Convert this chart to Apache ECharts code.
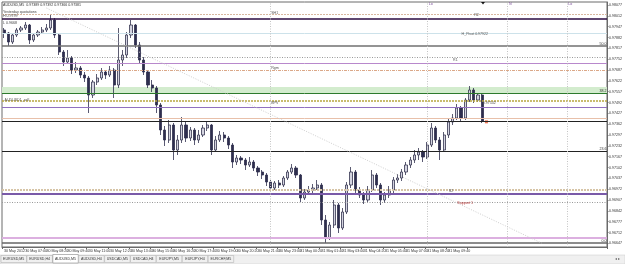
<!DOCTYPE html>
<html>
<head>
<meta charset="utf-8">
<script src="https://cdn.jsdelivr.net/npm/echarts@6/dist/echarts.min.js"></script>
<style>
html, body { margin: 0; padding: 0; background: #fff; }
#main { width: 625px; height: 264px; }
</style>
</head>
<body>
<div id="main"></div>
<script>
// AUDUSD M5, prices in 1e-5 units (97927 -> 0.97927)
var opens = [
  97927, 97909, 97855, 97897, 97927, 97939, 97957, 97867, 97897, 97915,
  97927, 97939, 97987, 97897, 97795, 97735, 97759, 97687, 97699, 97657,
  97639, 97537, 97615, 97639, 97675, 97657, 97687, 97597, 97747, 97777,
  97897, 97957, 97837, 97747, 97675, 97597, 97579, 97477, 97327, 97267,
  97357, 97207, 97267, 97357, 97279, 97327, 97267, 97297, 97339, 97357,
  97207, 97267, 97297, 97279, 97237, 97135, 97159, 97147, 97117, 97135,
  97099, 97075, 97057, 97015, 96979, 97009, 96997, 97039, 97075, 97099,
  97057, 96919, 96955, 96967, 96979, 96997, 96787, 96679, 96757, 96877,
  96739, 96835, 96997, 97075, 96967, 96937, 96907, 96967, 97057, 96997,
  96907, 96937, 96967, 97027, 97039, 97075, 97117, 97147, 97177, 97195,
  97165, 97237, 97339, 97267, 97207, 97297, 97375, 97399, 97459, 97399,
  97507, 97567, 97507, 97537
];
var closes = [
  97909, 97855, 97897, 97927, 97939, 97957, 97867, 97897, 97915, 97927,
  97939, 97987, 97897, 97795, 97735, 97759, 97687, 97699, 97657, 97639,
  97537, 97615, 97639, 97675, 97657, 97687, 97597, 97747, 97777, 97897,
  97957, 97837, 97747, 97675, 97597, 97579, 97477, 97327, 97267, 97357,
  97207, 97267, 97357, 97279, 97327, 97267, 97297, 97339, 97357, 97207,
  97267, 97297, 97279, 97237, 97135, 97159, 97147, 97117, 97135, 97099,
  97075, 97057, 97015, 96979, 97009, 96997, 97039, 97075, 97099, 97057,
  96919, 96955, 96967, 96979, 96997, 96787, 96679, 96757, 96877, 96739,
  96835, 96997, 97075, 96967, 96937, 96907, 96967, 97057, 96997, 96907,
  96937, 96967, 97027, 97039, 97075, 97117, 97147, 97177, 97195, 97165,
  97237, 97339, 97267, 97207, 97297, 97375, 97399, 97459, 97399, 97507,
  97567, 97507, 97537, 97381
];
var highs = [
  97939, 97915, 97903, 97939, 97951, 97975, 97963, 97909, 97927, 97945,
  97963, 98023, 97999, 97903, 97807, 97807, 97771, 97735, 97711, 97675,
  97651, 97627, 97663, 97699, 97687, 97711, 97699, 97939, 97807, 97915,
  97987, 97963, 97855, 97765, 97687, 97627, 97591, 97489, 97351, 97387,
  97369, 97297, 97405, 97375, 97345, 97339, 97327, 97357, 97375, 97363,
  97291, 97321, 97315, 97291, 97249, 97177, 97171, 97159, 97165, 97147,
  97111, 97087, 97069, 97027, 97021, 97027, 97051, 97087, 97123, 97111,
  97063, 96973, 96991, 97003, 97027, 97009, 96817, 96775, 96907, 96889,
  96859, 97015, 97105, 97087, 96985, 96955, 96991, 97087, 97069, 97009,
  96955, 96991, 97045, 97063, 97093, 97135, 97165, 97207, 97219, 97207,
  97255, 97369, 97351, 97285, 97315, 97393, 97423, 97483, 97471, 97519,
  97591, 97579, 97547, 97549
];
var lows = [
  97879, 97831, 97843, 97885, 97915, 97927, 97843, 97855, 97885, 97903,
  97915, 97927, 97879, 97777, 97711, 97723, 97663, 97669, 97639, 97615,
  97429, 97519, 97597, 97627, 97633, 97645, 97519, 97579, 97711, 97759,
  97879, 97819, 97729, 97657, 97579, 97555, 97429, 97297, 97231, 97249,
  97147, 97177, 97249, 97255, 97261, 97237, 97249, 97285, 97321, 97177,
  97195, 97255, 97255, 97213, 97099, 97117, 97123, 97087, 97105, 97081,
  97051, 97033, 96991, 96955, 96967, 96979, 96985, 97027, 97063, 97039,
  96895, 96907, 96937, 96949, 96967, 96757, 96649, 96667, 96739, 96709,
  96727, 96823, 96979, 96949, 96919, 96883, 96895, 96955, 96979, 96877,
  96889, 96919, 96949, 97009, 97021, 97057, 97099, 97129, 97147, 97135,
  97153, 97225, 97249, 97147, 97195, 97279, 97357, 97387, 97381, 97387,
  97495, 97489, 97495, 97369
];

var timeLabels = [
  "30 May 2012", "30 May 07:00", "30 May 08:20", "30 May 09:40", "30 May 11:00",
  "30 May 12:20", "30 May 13:40", "30 May 15:00", "30 May 16:20", "30 May 17:40",
  "30 May 19:00", "30 May 20:20", "30 May 21:40", "30 May 23:00", "31 May 00:20",
  "31 May 01:40", "31 May 03:00", "31 May 04:20", "31 May 05:40", "31 May 07:00",
  "31 May 08:20", "31 May 09:40", "31 May 11:00"
];
var priceTicks = [
  0.98077, 0.98012, 0.97947, 0.97882, 0.97817, 0.97752, 0.97687, 0.97622,
  0.97557, 0.97492, 0.97427, 0.97362, 0.97297, 0.97232, 0.97167, 0.97102,
  0.97037, 0.96972, 0.96907, 0.96842, 0.96777, 0.96712, 0.96647
];

// horizontal objects on the chart
var levelPrices = [0.98023, 0.97993, 0.97909, 0.97831, 0.97765, 0.97729, 0.97687, 0.97549, 0.97501,
  0.97465, 0.97399, 0.97381, 0.97201, 0.96967, 0.96943, 0.96895, 0.96679, 0.96649];
var greenZone = [0.97549, 0.97585];
var tagPrices = [0.98023, 0.97909, 0.97765, 0.97567, 0.97501, 0.97399, 0.97381, 0.96967, 0.96895];
var sessionIdx = [63, 100, 119, 133];
var sessionNames = ["", "Lo", "N", "Lo"];
var trendLine = [[10, 0.98059], [127, 0.96649]];
var lastMarker = [114, 0.97376];
var notes = [
  ["SH1", 63, 0.98029], ["R2", 111, 0.98017], ["H_Pivot 0.97922", 108, 0.97903],
  ["R1", 106, 0.97747], ["Rgm", 63, 0.97699], ["BPV", 63, 0.97489],
  ["AUDUSD1_sell", 0, 0.97507], ["0.97542", 113, 0.97489], ["S2", 105, 0.96961],
  ["Support 1", 107, 0.96889]
];
var tabNames = ["EURUSD,M5", "EURUSD,H4", "AUDUSD,M5", "AUDUSD,H4", "USDCAD,M5",
  "USDCAD,H4", "EURJPY,M5", "EURJPY,H4", "EURCHF,M5"];

// color, width, dash
var levelStyles = [
  ["#d8b8a0", 1, [2, 1]], ["#2a0a40", 1.5, "solid"], ["#cde2ea", 1, "solid"],
  ["#707070", 1.5, "solid"], ["#9a9a9a", 1, [1, 1.5]], ["#b888cc", 1, "solid"],
  ["#dba888", 1, [3, 1, 1, 1]], ["#2c7a2c", 1, "solid"], ["#b8a640", 1.5, [2, 1]],
  ["#9070c0", 1, "solid"], ["#e8c0aa", 1, "solid"], ["#222222", 1, "solid"],
  ["#222222", 1, "solid"], ["#d6c4a6", 2, [2, 1]], ["#7a5aa8", 2, "solid"],
  ["#999999", 1, [1, 1.5]], ["#dcb0e0", 2, "solid"], ["#666666", 1.5, "solid"]
];
var fibText = { 3: "50.0", 7: "38.2", 12: "23.6", 17: "0.0" };
var tagColors = [
  ["#c43c30", "#fff"], ["#bfdfea", "#333"], ["#a8a8a8", "#222"], ["#b9e3ad", "#333"],
  ["#111", "#fff"], ["#e2572c", "#fff"], ["#111", "#fff"], ["#e2d9c6", "#333"], ["#a3312a", "#fff"]
];

var FONT = "Liberation Sans";
var FS = 3.6;

var cats = [];
for (var i = 0; i < 143; i++) cats.push(String(i));

var candles = opens.map(function (o, i) {
  return [o / 1e5, closes[i] / 1e5, lows[i] / 1e5, highs[i] / 1e5];
});

var lineData = [];
levelPrices.forEach(function (p, i) {
  var s = levelStyles[i];
  var item = {
    yAxis: p,
    lineStyle: { color: s[0], width: s[1], type: s[2] },
    label: { show: false }
  };
  if (fibText[i]) {
    item.label = {
      show: true, position: "insideEndTop", formatter: fibText[i],
      fontSize: FS, fontFamily: FONT, color: "#333", distance: 0.5
    };
  }
  lineData.push(item);
});
tagPrices.forEach(function (p, i) {
  lineData.push({
    yAxis: p,
    lineStyle: { opacity: 0 },
    label: {
      show: true, position: "end", distance: 0.5,
      formatter: p.toFixed(5), fontSize: FS, fontFamily: FONT,
      color: tagColors[i][1], backgroundColor: tagColors[i][0],
      padding: [1, 1, 0.5, 1], width: 10
    }
  });
});
sessionIdx.forEach(function (x) {
  lineData.push({ xAxis: x, lineStyle: { color: "#c4c4c4", width: 1, type: [1, 1.5] }, label: { show: false } });
});
lineData.push([
  { coord: trendLine[0], lineStyle: { color: "#cfcfcf", width: 1, type: [1, 1.5] }, label: { show: false } },
  { coord: trendLine[1] }
]);

var pointData = notes.map(function (n) {
  return {
    coord: [n[1], n[2]],
    label: {
      show: true, position: "right", distance: 0, formatter: n[0],
      fontSize: FS, fontFamily: FONT, color: n[0] == "Support 1" ? "#b03030" : "#555"
    }
  };
});
sessionIdx.forEach(function (x, i) {
  if (!sessionNames[i]) return;
  pointData.push({
    coord: [x, 0.98083],
    label: { show: true, position: "right", distance: 1, formatter: sessionNames[i],
      fontSize: FS, fontFamily: FONT, color: "#7a4a9a" }
  });
});

var showIdx = function (i) { return i % 5 === 0 && i <= 110; };

// tabs at the bottom
var graphics = [
  { type: "rect", shape: { x: 0, y: 255, width: 625, height: 9 }, style: { fill: "#f0f0f0", stroke: "#c8c8c8", lineWidth: 0.5 }, z: 10 }
];
tabNames.forEach(function (t, i) {
  var x = 1 + i * 25.9;
  var active = i === 2;
  graphics.push({
    type: "rect", shape: { x: x, y: active ? 254.5 : 255.5, width: 25.5, height: active ? 8.5 : 7 },
    style: { fill: active ? "#fff" : "#f0f0f0", stroke: active ? "#777" : "#aaa", lineWidth: 0.5 }, z: 11
  });
  graphics.push({
    type: "text", x: x + 12.7, y: 259, style: { text: t, fontSize: FS, fontFamily: FONT, fill: "#333", align: "center", verticalAlign: "middle" }, z: 12
  });
});
graphics.push({ type: "text", x: 615, y: 259, style: { text: "◂ ▸", fontSize: 4, fill: "#666", verticalAlign: "middle" }, z: 12 });
// header text
graphics.push({ type: "text", x: 3, y: 2.5, style: { text: "AUDUSD,M5  0.97389 0.97392 0.97366 0.97381", fontSize: FS, fontFamily: FONT, fill: "#333" }, z: 12 });
graphics.push({ type: "text", x: 3, y: 10, style: { text: "Yesterday quotations", fontSize: FS, fontFamily: FONT, fill: "#444" }, z: 12 });
graphics.push({ type: "text", x: 3, y: 13.6, style: { text: "H 0.9799", fontSize: FS, fontFamily: FONT, fill: "#444" }, z: 12 });
graphics.push({ type: "text", x: 3, y: 21, style: { text: "L 0.9668", fontSize: FS, fontFamily: FONT, fill: "#444" }, z: 12 });
// chart shift marker
graphics.push({ type: "polygon", shape: { points: [[481, 2], [485, 2], [483, 4.5]] }, style: { fill: "#111" }, z: 12 });

var myChart = echarts.init(document.getElementById("main"));
myChart.setOption({
  animation: false,
  backgroundColor: "#fff",
  grid: { left: 2, right: 14, top: 2, bottom: 17, show: true, borderColor: "#6a6a6a", borderWidth: 1 },
  xAxis: {
    type: "category",
    data: cats,
    boundaryGap: true,
    axisLine: { show: true, lineStyle: { color: "#6a6a6a" } },
    axisTick: { show: true, interval: showIdx, length: 2, lineStyle: { color: "#666" } },
    axisLabel: {
      interval: showIdx, align: "left", margin: 2,
      fontSize: FS, fontFamily: FONT, color: "#333",
      formatter: function (v, i) { return timeLabels[i / 5] || ""; }
    },
    splitLine: { show: false }
  },
  yAxis: {
    type: "value",
    position: "right",
    min: 0.96625,
    max: 0.98095,
    axisLine: { show: true, lineStyle: { color: "#6a6a6a" } },
    axisTick: { show: true, customValues: priceTicks, length: 1.5, lineStyle: { color: "#666" } },
    axisLabel: {
      customValues: priceTicks, margin: 2, fontSize: FS, fontFamily: FONT, color: "#333",
      formatter: function (v) { return v.toFixed(5); }
    },
    splitLine: { show: false }
  },
  graphic: graphics,
  series: [
    {
      name: "objects",
      type: "line",
      data: [],
      z: 1,
      markArea: {
        silent: true,
        itemStyle: { color: "#d3ecce" },
        data: [[{ yAxis: greenZone[0] }, { yAxis: greenZone[1] }]]
      },
      markLine: { silent: true, symbol: "none", precision: 5, animation: false, data: lineData },
      markPoint: {
        silent: true, symbol: "circle", symbolSize: 1,
        itemStyle: { color: "rgba(0,0,0,0)" }, data: pointData
      }
    },
    {
      name: "AUDUSD",
      type: "candlestick",
      data: candles,
      z: 3,
      barWidth: 2.6,
      itemStyle: {
        color: "#d4d4e0",
        color0: "#2e2e4e",
        borderColor: "#34344f",
        borderColor0: "#2e2e4e",
        borderWidth: 0.8
      }
    },
    {
      name: "last",
      type: "scatter",
      data: [lastMarker],
      z: 4,
      symbol: "rect",
      symbolSize: 3,
      itemStyle: { color: "#e8542a" }
    }
  ]
});
</script>
</body>
</html>
